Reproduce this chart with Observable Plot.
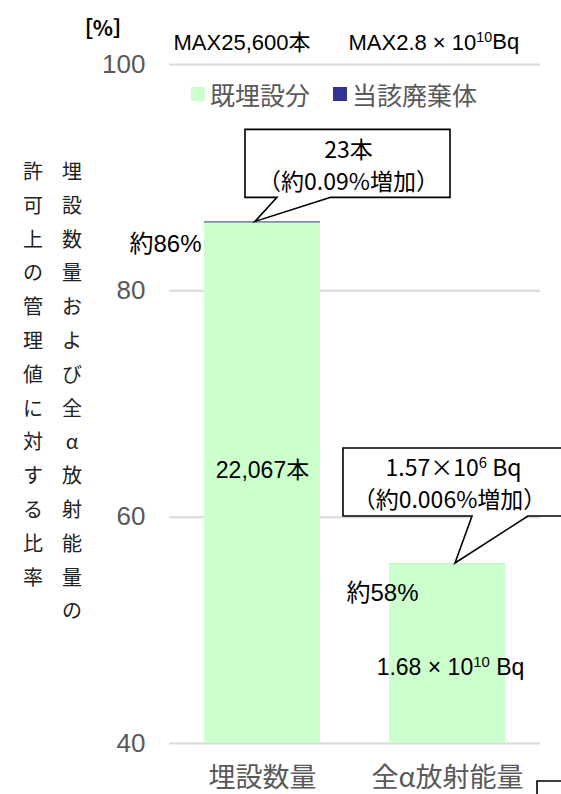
<!DOCTYPE html>
<html><head><meta charset="utf-8">
<script src="https://cdn.jsdelivr.net/npm/d3@7"></script>
<script src="https://cdn.jsdelivr.net/npm/@observablehq/plot@0.6"></script>
<style>body{margin:0;background:#fff} svg{display:block}</style>
</head><body><div id="chart"></div>
<script>
// ---- data ----
const categories = ["埋設数量", "全α放射能量"];
const series = ["既埋設分", "当該廃棄体"];
const existing = [86.0, 55.9];
const added = [0.09, 0.006];
const yTicks = [40, 60, 80, 100];
const maxLabels = ["MAX25,600本", "MAX2.8 × 10^10Bq"];
const pctLabels = ["約86%", "約58%"];
const innerLabels = ["22,067本", "1.68 × 10^10 Bq"];
const calloutLine1 = ["23本", "1.57×10^6 Bq"];
const calloutLine2 = ["（約0.09%増加）", "（約0.006%増加）"];
const yTitle1 = "許可上の管理値に対する比率";
const yTitle2 = "埋設数量および全α放射能量の";

// ---- styles / layout ----
const colors = ["#CCFFCC", "#333399"];
const JP = "'Noto Sans CJK JP', sans-serif";
const LAT = "'Liberation Sans', 'Noto Sans CJK JP', sans-serif";

const rows = categories.flatMap((c, i) => [
  {cat: c, series: series[0], value: existing[i]},
  {cat: c, series: series[1], value: added[i]}
]);
const totals = categories.map((c, i) => existing[i] + added[i]);

function labelMark(i, text, yv, opt) {
  return Plot.text([i], {
    x: d => categories[d], y: d => yv(d), text: d => text[d],
    fontFamily: opt.font ?? LAT, fontSize: opt.size ?? 20, fill: opt.fill ?? "#000",
    textAnchor: opt.anchor ?? "middle", dx: opt.dx ?? 0, dy: opt.dy ?? 0,
    className: opt.cls
  });
}

const chart = Plot.plot({
  width: 561, height: 794,
  marginTop: 64, marginBottom: 51, marginLeft: 169, marginRight: 21,
  style: {color: "#595959", background: "#fff", overflow: "visible"},
  x: {domain: categories, paddingInner: 0.375, paddingOuter: 0.1875, axis: null},
  y: {domain: [40, 100], axis: null},
  color: {domain: series, range: colors},
  marks: [
    Plot.ruleY(yTicks, {stroke: "#d9d9d9", strokeWidth: 2}),
    Plot.barY(rows, {x: "cat", y: "value", fill: "series", clip: true}),
    Plot.axisY({ticks: yTicks, tickSize: 0, tickPadding: 24, fontSize: 26, fontFamily: LAT, color: "#595959", label: null}),
    Plot.axisX({tickSize: 0, tickPadding: 24, fontSize: 27, fontFamily: JP, color: "#595959", label: null}),
    // bar labels
    labelMark(0, pctLabels, d => totals[d], {anchor: "end", dx: -61, dy: 22, size: 24}),
    labelMark(1, pctLabels, d => totals[d], {anchor: "middle", dx: -65, dy: 30, size: 24}),
    labelMark(0, innerLabels, d => (40 + existing[d]) / 2, {dx: 0, dy: -13, size: 23}),
    labelMark(1, innerLabels, d => (40 + existing[d]) / 2, {dx: 3, dy: 14, size: 23}),
    // MAX headers
    labelMark(0, maxLabels, () => 100, {anchor: "start", dx: -89, dy: -22, size: 22}),
    labelMark(1, maxLabels, () => 100, {anchor: "start", dx: -99, dy: -22, size: 22}),
    // callout texts
    labelMark(0, calloutLine1, d => totals[d], {font: JP, size: 23, dx: 86, dy: -71, cls: "callout-text"}),
    labelMark(0, calloutLine2, d => totals[d], {font: JP, size: 23, dx: 86, dy: -39, cls: "callout-text"}),
    labelMark(1, calloutLine1, d => totals[d], {font: JP, size: 23, dx: 6, dy: -95, cls: "callout-text"}),
    labelMark(1, calloutLine2, d => totals[d], {font: JP, size: 23, dx: 2, dy: -63, cls: "callout-text"})
  ]
});

document.getElementById("chart").appendChild(chart);
const svg = d3.select(chart);

// superscripts: "a^10b"
svg.selectAll("text").each(function() {
  const s = this.textContent;
  if (!s.includes("^")) return;
  const m = s.match(/^(.*?)\^(\d+)(.*)$/);
  const t = d3.select(this);
  t.text(null);
  t.append("tspan").text(m[1]);
  t.append("tspan").attr("font-size", "0.65em").attr("dy", "-0.5em").text(m[2]);
  t.append("tspan").attr("dy", "0.32em").text(m[3]);
});

// callout boxes (via Plot scales)
const xs = chart.scale("x"), ys = chart.scale("y");
const bw = xs.bandwidth;
const callouts = [
  {i: 0, tipDx: -7, left: -17, right: 188, top: -92, bottom: -24, b1: 15, b2: 68},
  {i: 1, tipDx: 8, left: -104, right: 140, top: -115, bottom: -47, b1: 25, b2: 81}
];
const firstCallText = chart.querySelector(".callout-text");
callouts.forEach(c => {
  const cx = xs.apply(categories[c.i]) + bw / 2;
  const ty = ys.apply(totals[c.i]);
  const tx = cx + c.tipDx;
  const L = cx + c.left, R = cx + c.right, T = ty + c.top, B = ty + c.bottom;
  const p = `M${cx + c.b2},${B} L${tx},${ty} L${cx + c.b1},${B} H${L} V${T} H${R} V${B} Z`;
  const path = document.createElementNS("http://www.w3.org/2000/svg", "path");
  path.setAttribute("d", p);
  path.setAttribute("fill", "#fff");
  path.setAttribute("stroke", "#000");
  path.setAttribute("stroke-width", "1.6");
  chart.insertBefore(path, firstCallText);
});

// partial box at bottom right
svg.append("path").attr("d", "M537,800 V781 H570").attr("fill", "none").attr("stroke", "#000").attr("stroke-width", 1.6);

// unit label
svg.append("text").attr("x", 103).attr("y", 29).attr("dy", "0.35em").attr("text-anchor", "middle")
  .attr("font-family", JP).attr("font-size", 21).attr("font-weight", 600).attr("fill", "#000").text("［%］");

// legend
const leg = [{x: 191, label: series[0], color: colors[0]}, {x: 333, label: series[1], color: colors[1]}];
leg.forEach(l => {
  svg.append("rect").attr("x", l.x).attr("y", 87).attr("width", 14).attr("height", 14).attr("fill", l.color);
  svg.append("text").attr("x", l.x + 19).attr("y", 96).attr("dy", "0.35em").attr("text-anchor", "start")
    .attr("font-family", JP).attr("font-size", 25).attr("fill", "#595959").text(l.label);
});

// vertical y title
[[yTitle1, 33], [yTitle2, 72]].forEach(([s, x]) => {
  Array.from(s).forEach((ch, k) => {
    svg.append("text").attr("x", x).attr("y", 172 + k * 33.8).attr("dy", "0.35em").attr("text-anchor", "middle")
      .attr("font-family", JP).attr("font-size", 20).attr("fill", "#222").text(ch);
  });
});
</script></body></html>
